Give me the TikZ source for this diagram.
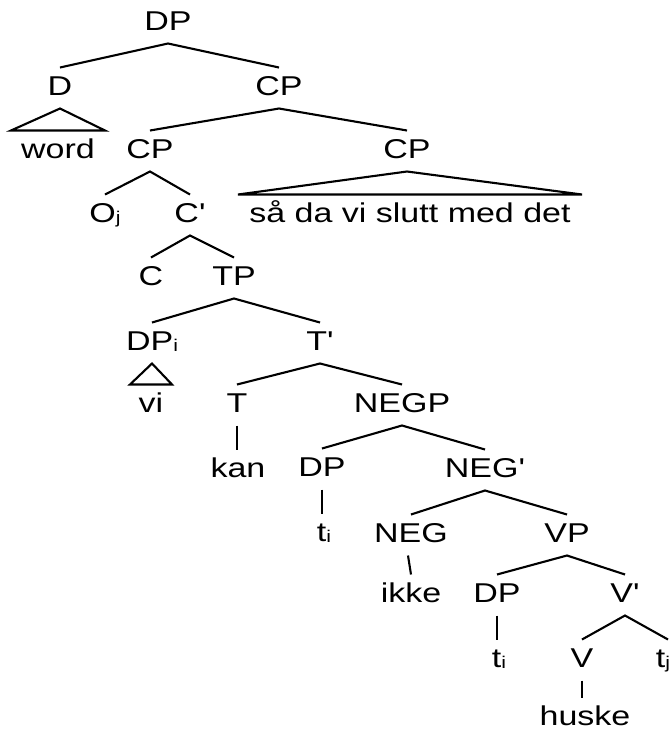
\documentclass[tikz,border=0pt]{standalone}
\usepackage{fontspec}
% Arial-metric sans, widened to the proportions of the labels
\newfontfamily\labelfont{Liberation Sans}[FakeStretch=1.25]
\newcommand\lsub[1]{{\fontsize{17}{17}\selectfont\raisebox{-1pt}{#1}}}
\begin{document}
\begin{tikzpicture}[x=1pt,y=-1pt,
  lab/.style={anchor=base, font=\labelfont\fontsize{27.2}{32}\selectfont,
    text height=20pt, text depth=6pt, inner xsep=0pt, inner ysep=7.5pt, outer sep=0pt},
  lastlab/.style={lab, text depth=0pt, inner ysep=2pt},
  branch/.style={line width=2.1pt, line join=miter, line cap=butt}]
\clip (0,0) rectangle (672,732);

% labels
\node[lab] (dp0)   at (168,30)  {DP};
\node[lab] (d)     at (60,95)   {D};
\node[lab] (cp1)   at (279,95)  {CP};
\node[lab] (word)  at (58,158)  {word};
\node[lab] (cp2)   at (150,158) {CP};
\node[lab] (cp3)   at (407,158) {CP};
\node[lab] (sada)  at (410,222) {så da vi slutt med det};
\node[lab] (oj)    at (105,222) {O\lsub{j}};
\node[lab] (cb)    at (190,222) {C'};
\node[lab] (c)     at (151,285) {C};
\node[lab] (tp)    at (234,285) {TP};
\node[lab] (dpi)   at (152,350) {DP\lsub{i}};
\node[lab] (tb)    at (320,350) {T'};
\node[lab] (vi)    at (151,412) {vi};
\node[lab] (t)     at (237,412) {T};
\node[lab] (negp)  at (402,412) {NEGP};
\node[lab] (kan)   at (238,477) {kan};
\node[lab] (dp1)   at (322,476) {DP};
\node[lab] (negb)  at (485,477) {NEG'};
\node[lab] (ti1)   at (324,541) {t\lsub{i}};
\node[lab] (neg)   at (411,542) {NEG};
\node[lab] (vp)    at (567,542) {VP};
\node[lab] (ikke)  at (411,602) {ikke};
\node[lab] (dp2)   at (497,602) {DP};
\node[lab] (vb)    at (625,602) {V'};
\node[lab] (ti2)   at (499,667) {t\lsub{i}};
\node[lab] (v)     at (582,667) {V};
\node[lab] (tj)    at (663,667) {t\lsub{j}};
\node[lastlab] (huske) at (585,725) {huske};

% binary branches
\draw[branch] (d.north)    -- (dp0.south) -- (cp1.north);
\draw[branch] (cp2.north)  -- (cp1.south) -- (cp3.north);
\draw[branch] (oj.north)   -- (cp2.south) -- (cb.north);
\draw[branch] (c.north)    -- (cb.south)  -- (tp.north);
\draw[branch] (dpi.north)  -- (tp.south)  -- (tb.north);
\draw[branch] (t.north)    -- (tb.south)  -- (negp.north);
\draw[branch] (dp1.north)  -- (negp.south) -- (negb.north);
\draw[branch] (neg.north)  -- (negb.south) -- (vp.north);
\draw[branch] (dp2.north)  -- (vp.south)  -- (vb.north);
\draw[branch] (v.north)    -- (vb.south)  -- ([xshift=5pt]tj.north);

% unary branches
\draw[branch] (t.south)   -- (t.south |- kan.north);
\draw[branch] (dp1.south) -- (dp1.south |- ti1.north);
\draw[branch] ([xshift=-3pt]neg.south) -- (ikke.north);
\draw[branch] (dp2.south) -- (dp2.south |- ti2.north);
\draw[branch] (v.south)   -- ([yshift=5pt]v.south |- huske.north);

% triangles over unanalysed constituents
\draw[branch] (d.south)   -- ([xshift=-47pt]word.north) -- ([xshift=47pt]word.north) -- cycle;
\draw[branch] (cp3.south) -- ([xshift=-172pt]sada.north) -- ([xshift=172pt]sada.north) -- cycle;
\draw[branch] (dpi.south) -- ([xshift=-21pt]vi.north) -- ([xshift=21pt]vi.north) -- cycle;
\end{tikzpicture}
\end{document}
